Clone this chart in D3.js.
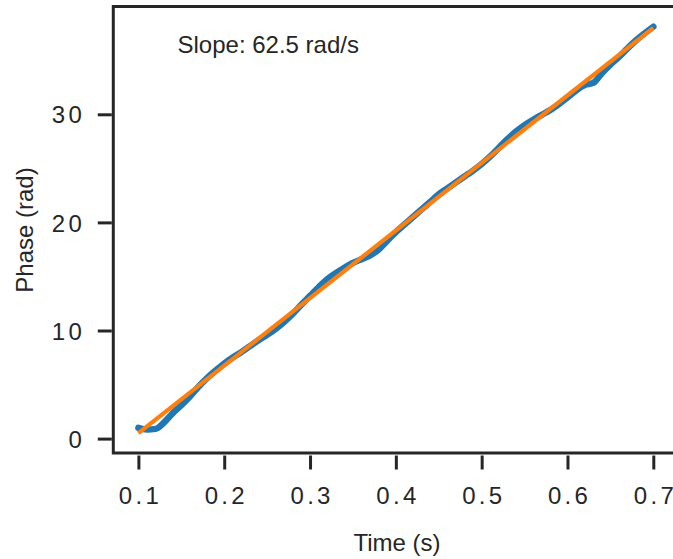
<!DOCTYPE html>
<html>
<head>
<meta charset="utf-8">
<script src="https://cdn.jsdelivr.net/npm/d3@7"></script>
<style>
  html, body { margin: 0; padding: 0; background: #fff; }
  svg text { font-family: "Liberation Sans", Arial, Helvetica, sans-serif; fill: #262626; }
</style>
</head>
<body>
<svg id="chart" width="673" height="559"></svg>
<script>
// Measured phase samples (s, rad)
const time = [0.10,0.11,0.12,0.13,0.14,0.15,0.16,0.17,0.18,0.19,
              0.20,0.21,0.22,0.23,0.24,0.25,0.26,0.27,0.28,0.29,
              0.30,0.31,0.32,0.33,0.34,0.35,0.36,0.37,0.38,0.39,
              0.40,0.41,0.42,0.43,0.44,0.45,0.46,0.47,0.48,0.49,
              0.50,0.51,0.52,0.53,0.54,0.55,0.56,0.57,0.58,0.59,
              0.60,0.61,0.62,0.63,0.64,0.65,0.66,0.67,0.68,0.69,0.70];
const phase = [1.0,0.85,0.9,1.5,2.35,3.1,3.9,4.8,5.6,6.3,
               6.95,7.5,8.0,8.55,9.1,9.6,10.15,10.8,11.55,12.4,
               13.2,14.0,14.75,15.3,15.8,16.25,16.6,16.95,17.5,18.3,
               19.1,19.8,20.5,21.2,21.9,22.6,23.15,23.7,24.25,24.8,
               25.4,26.1,26.9,27.7,28.4,29.0,29.5,29.95,30.4,30.95,
               31.55,32.2,32.7,32.9,33.8,34.6,35.3,36.1,36.85,37.5,38.1];

// Linear fit: slope (rad/s) and value at the first sample
const slope = 62.5;
const intercept = 0.5;
const fitTime = [0.10, 0.70];

const xTicks = [0.1, 0.2, 0.3, 0.4, 0.5, 0.6, 0.7];
const yTicks = [0, 10, 20, 30];

const svg = d3.select("#chart");

const box = { left: 113.3, top: 6.5, right: 700, bottom: 453 };

const x = d3.scaleLinear().domain([0.1, 0.7]).range([138.4, 653.3]);
const y = d3.scaleLinear().domain([0, 30]).range([438.6, 114.3]);

// Plot frame (right edge lies past the visible area)
const frame = svg.append("g")
  .attr("stroke", "#262626").attr("stroke-width", 3).attr("fill", "none");
frame.append("path")
  .attr("d", `M${box.right},${box.top}H${box.left}V${box.bottom}H${box.right}`)
  .attr("stroke-linejoin", "miter");

// X axis, offset below the frame
const xAxis = svg.append("g")
  .attr("transform", `translate(0,${box.bottom + 2.5})`)
  .call(d3.axisBottom(x).tickValues(xTicks).tickSize(14).tickPadding(17)
        .tickFormat(d3.format(".1f")));
xAxis.select(".domain").remove();
xAxis.selectAll(".tick line").attr("stroke", "#262626").attr("stroke-width", 3);
xAxis.selectAll(".tick text")
  .style("font-size", "24px").style("letter-spacing", "3.3px")
  .attr("dx", "1.6px").attr("fill", "#262626");

// Y axis, ticks meet the frame
const yAxis = svg.append("g")
  .attr("transform", `translate(${box.left - 1.5},0)`)
  .call(d3.axisLeft(y).tickValues(yTicks).tickSize(14).tickPadding(16));
yAxis.select(".domain").remove();
yAxis.selectAll(".tick line").attr("stroke", "#262626").attr("stroke-width", 3);
yAxis.selectAll(".tick text")
  .style("font-size", "24px").style("letter-spacing", "3.3px")
  .attr("dx", "3.3px").attr("dy", "0.36em").attr("fill", "#262626");

// Measured phase
const line = d3.line().x((d, i) => x(time[i])).y(d => y(d)).curve(d3.curveMonotoneX);
svg.append("path")
  .datum(phase)
  .attr("d", line)
  .attr("fill", "none")
  .attr("stroke", "#1f77b4")
  .attr("stroke-width", 6.5)
  .attr("stroke-linejoin", "round")
  .attr("stroke-linecap", "round");

// Fitted line
svg.append("path")
  .datum(fitTime)
  .attr("d", d3.line().x(t => x(t)).y(t => y(intercept + slope * (t - fitTime[0]))))
  .attr("fill", "none")
  .attr("stroke", "#ff7f0e")
  .attr("stroke-width", 4.2)
  .attr("stroke-linecap", "butt");

// Annotation
svg.append("text")
  .attr("x", 177.5).attr("y", 52.5)
  .style("font-size", "24px")
  .text(`Slope: ${slope.toFixed(1)} rad/s`);

// Axis titles
svg.append("text")
  .attr("x", 397).attr("y", 551)
  .attr("text-anchor", "middle")
  .style("font-size", "24px")
  .text("Time (s)");

svg.append("text")
  .attr("transform", "translate(33,230) rotate(-90)")
  .attr("text-anchor", "middle")
  .style("font-size", "24px")
  .text("Phase (rad)");
</script>
</body>
</html>
